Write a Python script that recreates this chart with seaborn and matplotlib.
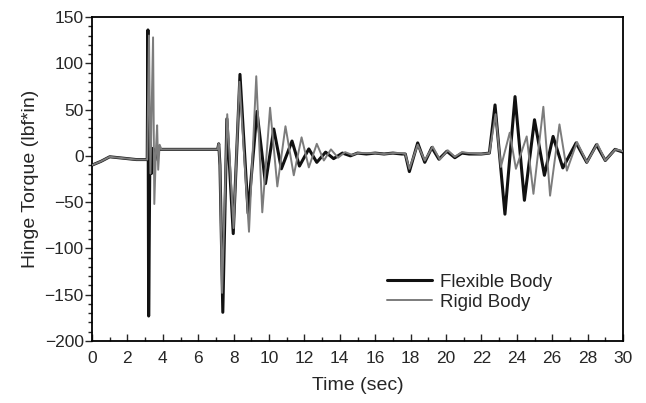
import matplotlib
matplotlib.use("Agg")
import matplotlib.pyplot as plt
import pandas as pd
import seaborn as sns
from matplotlib.ticker import MultipleLocator

# ---- data ----
series_names = ["Flexible Body", "Rigid Body"]

flex_t = [0.0, 0.5, 1.0, 1.5, 2.0, 2.5, 3.0, 3.12, 3.16, 3.2, 3.28, 3.36, 3.45, 3.55, 3.7, 3.85,
          4.0, 5.0, 6.0, 7.1, 7.16, 7.23, 7.39, 7.62, 7.98, 8.36, 8.82, 9.32, 9.8, 10.27, 10.7,
          11.3, 11.72, 12.25, 12.7, 13.2, 13.65, 14.15, 14.6, 15.0, 15.5, 16.0, 16.5, 17.0, 17.5,
          17.7, 17.93, 18.4, 18.8, 19.2, 19.6, 20.05, 20.5, 20.9, 21.3, 22.0, 22.45, 22.77, 23.33,
          23.9, 24.43, 25.0, 25.56, 26.05, 26.6, 27.35, 27.95, 28.5, 29.0, 29.55, 30.0]
flex_v = [-10, -6, -1, -2, -3, -4, -4, -4, 136, -173, 25, -19, 8, -5, 8, 7,
          7, 7, 7, 7, 13, -10, -169, 40, -84, 88, -62, 48, -30, 29, -14,
          16, -11, 7.5, -7, 4, -3, 3, 0, 3, 2, 3, 2, 3, 2,
          2, -17, 14, -7, 9, -3.6, 5, -2, 3, 2, 2, 3, 55, -63,
          64, -48, 39, -21, 21, -13, 14, -7, 12, -5, 7, 4]

rigid_t = [0.0, 0.5, 1.0, 1.5, 2.0, 2.5, 3.0, 3.12, 3.22, 3.3, 3.45, 3.52, 3.62, 3.68, 3.74, 3.82,
           3.92, 4.0, 5.0, 6.0, 7.1, 7.16, 7.23, 7.35, 7.64, 8.0, 8.33, 8.87, 9.28, 9.62, 10.06,
           10.47, 10.93, 11.4, 11.84, 12.25, 12.7, 13.1, 13.5, 13.9, 14.3, 14.7, 15.0, 15.5, 16.0,
           16.5, 17.0, 17.5, 17.7, 17.93, 18.4, 18.8, 19.25, 19.65, 20.1, 20.5, 20.9, 21.3, 22.0,
           22.45, 22.8, 23.1, 23.6, 23.95, 24.56, 24.94, 25.5, 25.88, 26.41, 26.83, 27.4, 27.96,
           28.55, 29.0, 29.57, 30.0]
rigid_v = [-10, -6, -1, -2, -3, -4, -4, -4, 130, -19, 128, -52, 10, 33, -15, 12,
           7, 7, 7, 7, 7, 13, -10, -148, 45, -78, 80, -82, 86, -61, 52,
           -33, 32, -21, 20, -12.5, 13, -5, 7, -2, 4, 1, 3, 3, 3,
           2, 3, 3, 2, -14, 12, -5, 10, -4, 6, -1, 4, 3, 2,
           3, 45, -12, 25, -14, 21, -41, 53, -43, 34, -16, 15, -7,
           13, -5, 7, 5]

x_ticks = list(range(0, 31, 2))
y_ticks = list(range(-200, 151, 50))

# ---- style ----
sns.set_style("ticks")
plt.rcParams['font.family'] = ['Liberation Sans', 'DejaVu Sans']

W, H = 646, 403
fig = plt.figure(figsize=(W / 100, H / 100), dpi=100)
left, right, top, bottom = 92, 623, 17, 341
ax = fig.add_axes([left / W, 1 - bottom / H, (right - left) / W, (bottom - top) / H])

df_flex = pd.DataFrame({"Time": flex_t, "Torque": flex_v})
df_rigid = pd.DataFrame({"Time": rigid_t, "Torque": rigid_v})

sns.lineplot(data=df_flex, x="Time", y="Torque", ax=ax, color="#111111", linewidth=2.2,
             estimator=None, sort=False, label=series_names[0], zorder=2)
sns.lineplot(data=df_rigid, x="Time", y="Torque", ax=ax, color="#7c7c7c", linewidth=1.4,
             estimator=None, sort=False, label=series_names[1], zorder=3)

ax.set_xlim(0, 30)
ax.set_ylim(-200, 150)
ax.set_xticks(x_ticks)
ax.set_yticks(y_ticks)
ax.xaxis.set_minor_locator(MultipleLocator(1))
ax.yaxis.set_minor_locator(MultipleLocator(10))

ax.tick_params(axis="y", which="major", direction="out", length=5, width=1, labelsize=12.5, pad=1)
ax.tick_params(axis="y", which="minor", direction="out", length=3, width=1)
ax.tick_params(axis="x", which="major", direction="in", length=5, width=1, labelsize=12.5, pad=7)
ax.tick_params(axis="x", which="minor", direction="in", length=3, width=1)

for s in ax.spines.values():
    s.set_visible(True)
    s.set_color("black")
    s.set_linewidth(1.3)

ax.set_xlabel("Time (sec)", fontsize=14, labelpad=8)
ax.set_ylabel("Hinge Torque (lbf*in)", fontsize=14, labelpad=4)

leg = ax.legend(loc="center left", bbox_to_anchor=((387 - left) / (right - left), (bottom - 292) / (bottom - top)),
                frameon=False, fontsize=13.5, handlelength=2.4, handletextpad=0.45,
                labelspacing=0.15, borderpad=0, borderaxespad=0)

fig.savefig("out.png", dpi=100)
